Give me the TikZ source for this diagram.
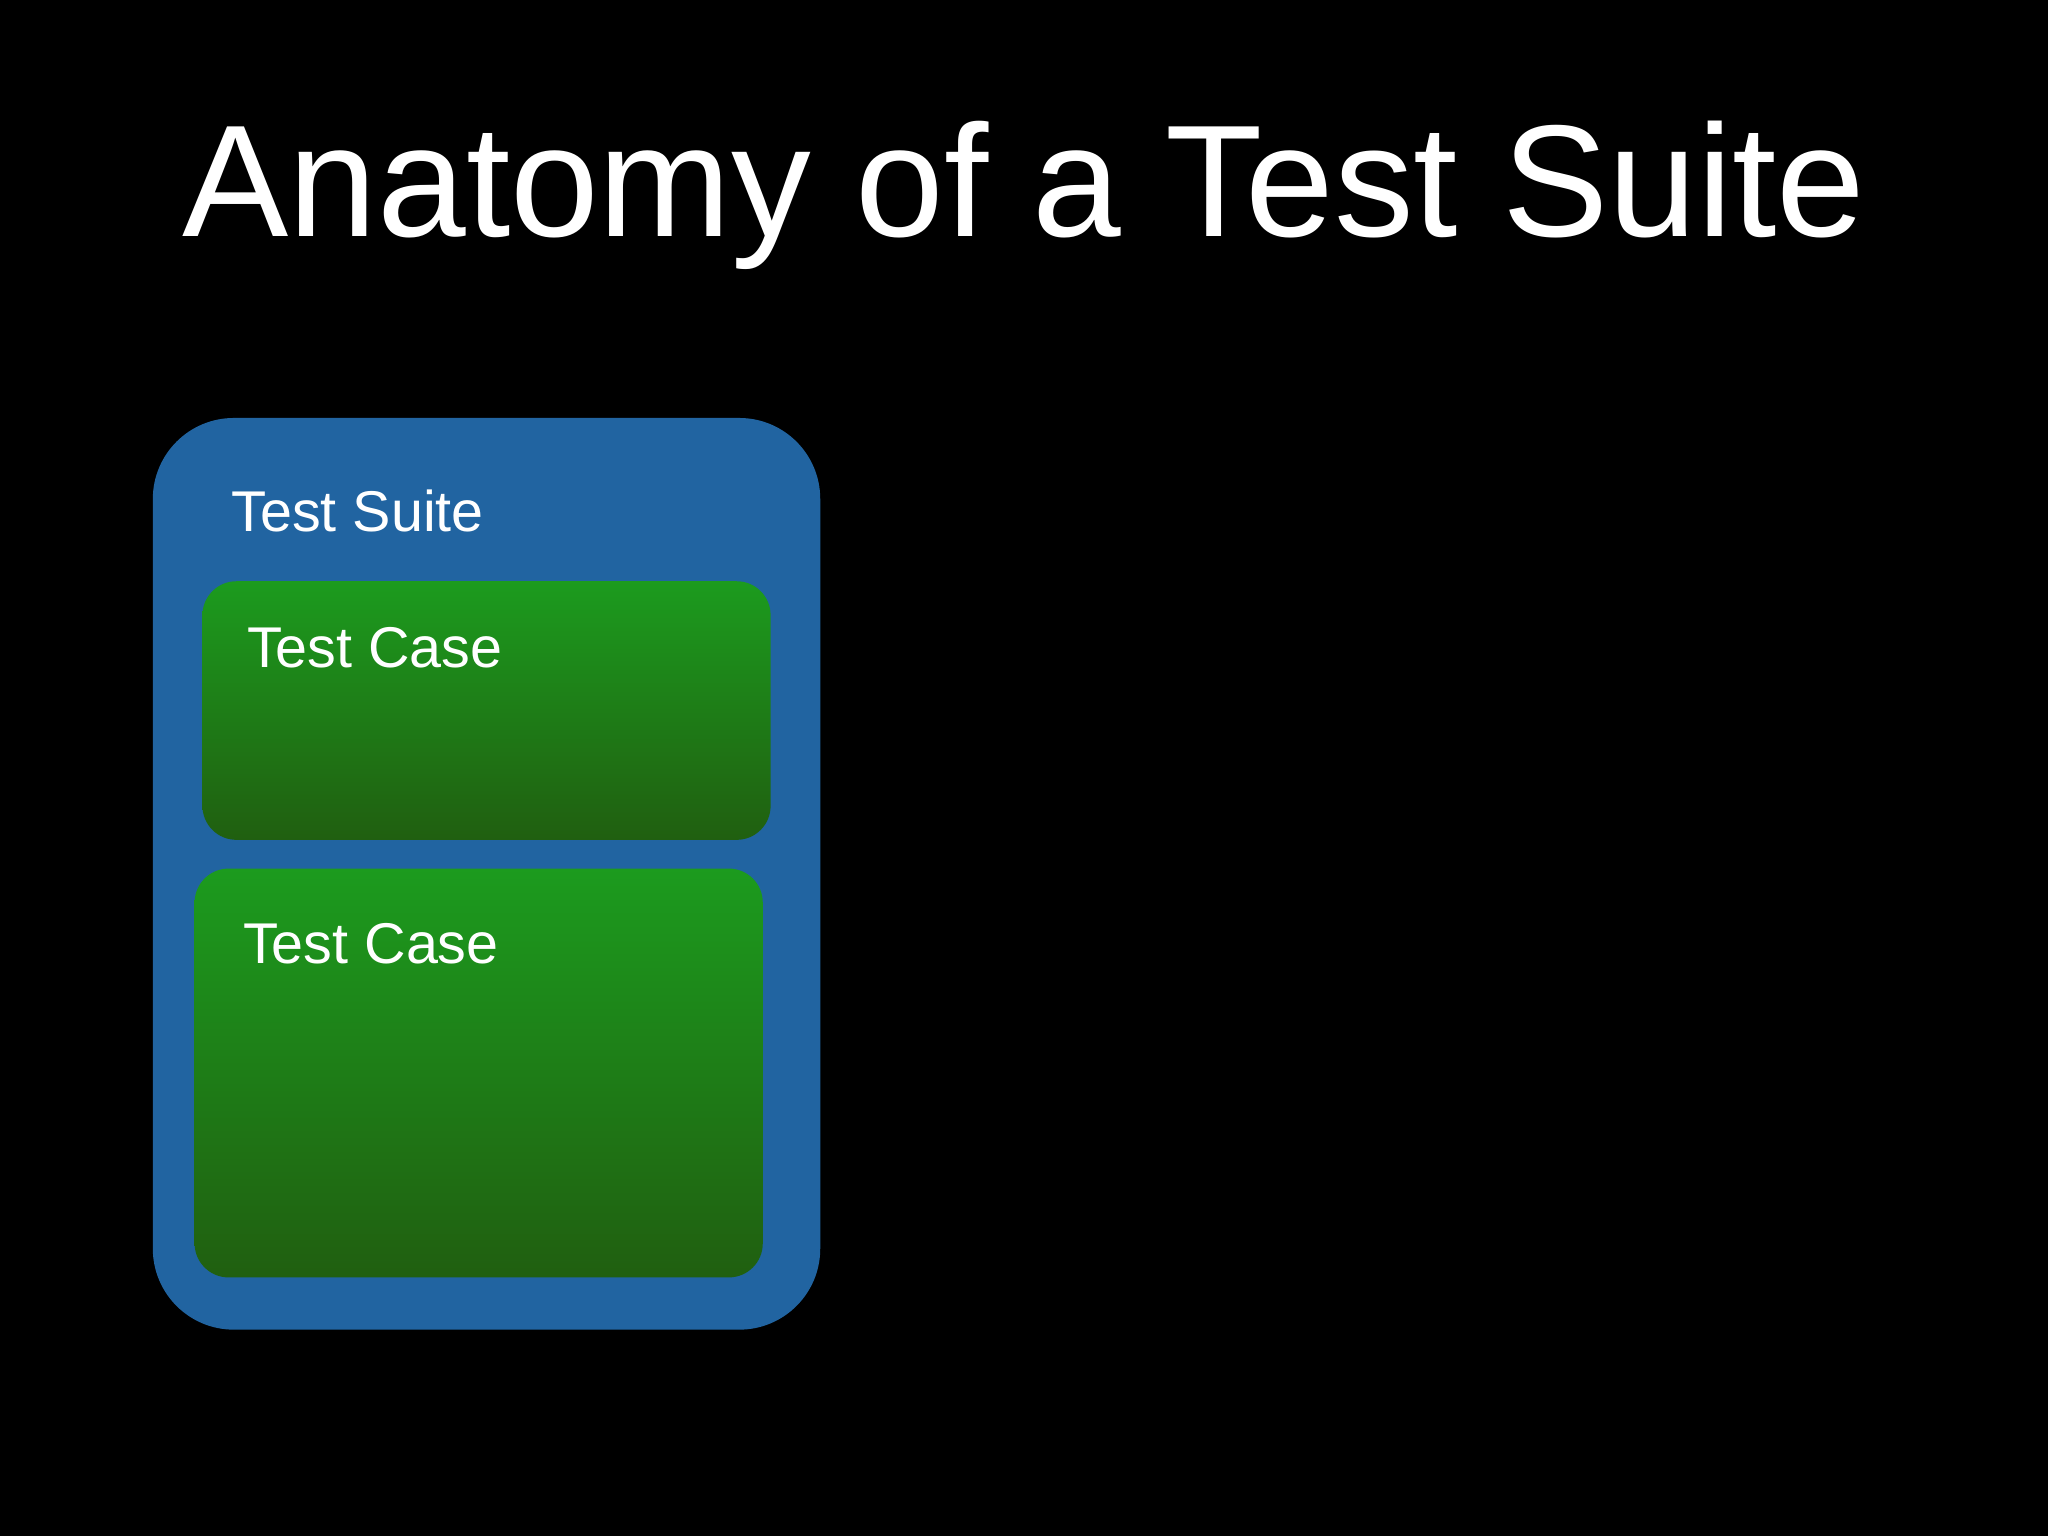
\documentclass[tikz,border=0pt]{standalone}
\usepackage{fontspec}
\setmainfont{Liberation Sans}
\definecolor{suiteblue}{RGB}{33,100,161}
\definecolor{gtop}{RGB}{28,155,30}
\definecolor{gbot}{RGB}{32,95,16}
\tikzset{
  casebox/.style={rounded corners=26pt, top color=gtop, bottom color=gbot, draw=none},
  lbl/.style={text=white, anchor=base west, font=\fontsize{44}{50}\selectfont, inner sep=0pt}
}
\begin{document}
\begin{tikzpicture}[x=1pt,y=-1pt]
\fill[black] (0,0) rectangle (1568,1176);
\useasboundingbox (0,0) rectangle (1568,1176);
\node[text=white, font=\fontsize{122}{130}\selectfont, anchor=base, inner sep=0pt] (title) at (784,181) {Anatomy of a Test Suite};
\fill[suiteblue, rounded corners=62pt] (117,320) rectangle (628,1018);
\node[lbl] (suite) at (177,407) {Test Suite};
\path[casebox] (155,445) rectangle (590,643);
\node[lbl] (case1) at (189,511) {Test Case};
\path[casebox] (149,665) rectangle (584,978);
\node[lbl] (case2) at (186,738) {Test Case};
\end{tikzpicture}
\end{document}
